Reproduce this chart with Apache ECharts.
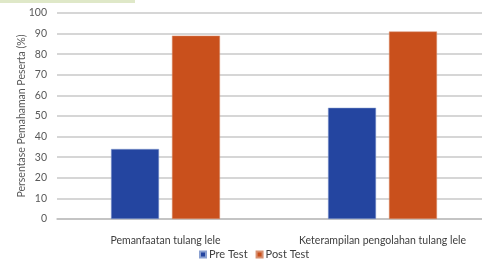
<!DOCTYPE html>
<html><head><meta charset="utf-8">
<script src="https://cdn.jsdelivr.net/npm/echarts@6/dist/echarts.min.js"></script>
<style>html,body{margin:0;padding:0;background:#fff}#c{width:482px;height:260px}</style>
</head><body><div id="c"></div>
<script>
var categories = ["Pemanfaatan tulang lele", "Keterampilan pengolahan tulang lele"];
var preTest = [34, 54];
var postTest = [89, 91];
var yTicks = {min: 0, max: 100, interval: 10};
var yName = "Persentase Pemahaman Peserta (%)";
var seriesNames = ["Pre Test", "Post Test"];

var FONT = "Lato";
var chart = echarts.init(document.getElementById('c'));
chart.setOption({
  animation: false,
  textStyle: {fontFamily: FONT},
  graphic: [{type: 'rect', shape: {x: 0, y: 0, width: 135, height: 3}, style: {fill: '#dfe8c8'}}],
  grid: {left: 57, width: 434, top: 13, bottom: 41, outerBoundsMode: 'none', containLabel: false},
  legend: {
    data: seriesNames, top: 244, left: 194, itemWidth: 6, itemHeight: 6, itemGap: 8,
    icon: 'rect', textStyle: {fontFamily: FONT, fontSize: 11, color: '#404040', padding: [0, 0, 0, -2]}
  },
  xAxis: {
    type: 'category', data: categories,
    axisLine: {lineStyle: {color: '#bfbfbf', width: 1.5}},
    axisTick: {show: false},
    axisLabel: {interval: 0, fontFamily: FONT, fontSize: 10.5, color: '#404040', margin: 16}
  },
  yAxis: {
    type: 'value', min: yTicks.min, max: yTicks.max, interval: yTicks.interval,
    name: yName, nameLocation: 'middle', nameGap: 30, nameRotate: 90, nameMoveOverlap: false,
    nameTextStyle: {fontFamily: FONT, fontSize: 10.5, color: '#595959'},
    axisLine: {show: false}, axisTick: {show: false},
    axisLabel: {fontFamily: FONT, fontSize: 10.5, color: '#595959', margin: 10},
    splitLine: {lineStyle: {color: '#c8c8c8', width: 1.5}}
  },
  series: [
    {name: seriesNames[0], type: 'bar', data: preTest, barWidth: 48, barGap: '27%',
     itemStyle: {color: '#2445a0', borderColor: '#8aa0d0', borderWidth: 0.5}},
    {name: seriesNames[1], type: 'bar', data: postTest, barWidth: 48,
     itemStyle: {color: '#c9501c', borderColor: '#d89070', borderWidth: 0.5}}
  ]
});
</script></body></html>
